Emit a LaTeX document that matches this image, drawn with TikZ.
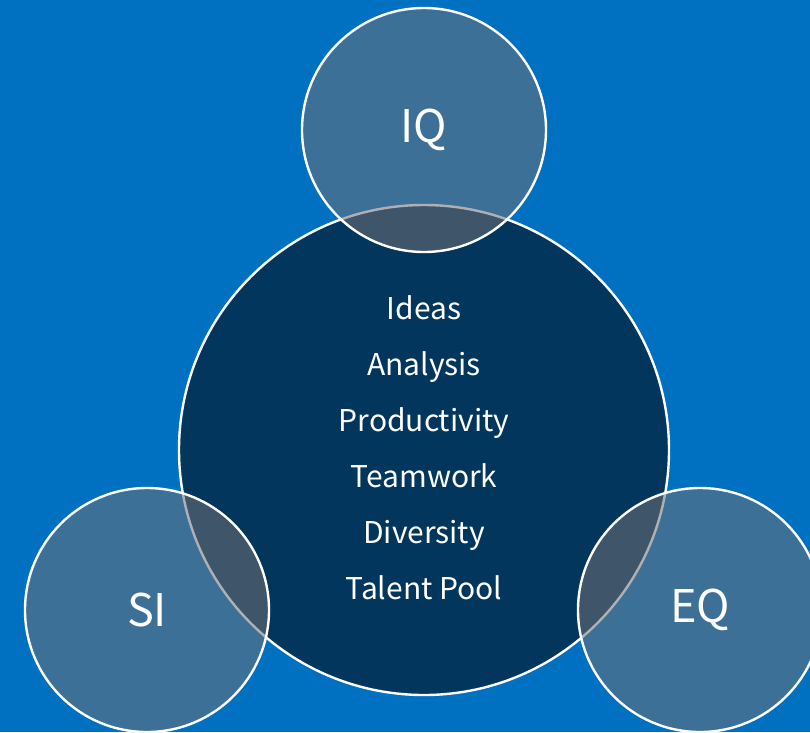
\documentclass[tikz,border=0pt]{standalone}
\usepackage{fontspec}
\setmainfont{Noto Sans CJK JP}
\definecolor{bgblue}{RGB}{0,112,192}
\definecolor{deepnavy}{RGB}{3,54,92}
\definecolor{veil}{RGB}{111,112,119}

\begin{document}
\begin{tikzpicture}[x=1pt, y=-1pt,
  core/.style={circle, draw=white, line width=2.4pt, fill=deepnavy, minimum size=490pt, inner sep=0pt},
  petal/.style={circle, draw=white, line width=2.4pt, fill=veil, fill opacity=0.55, text opacity=1,
    minimum size=244pt, inner sep=0pt, text=white, font=\fontsize{45}{48}\selectfont},
  item/.style={anchor=base, text=white, font=\fontsize{30}{32}\selectfont}]
\fill[bgblue] (0,0) rectangle (810,732);
\useasboundingbox (0,0) rectangle (810,732);

\node (c) at (424,450) [core] {};
\node (iq) at (424,130) [petal] {IQ};
\node (si) at (147,610) [petal] {SI};
\node (eq) at (700,610) [petal] {EQ};

\foreach \w [count=\i] in {Ideas, Analysis, Productivity, Teamwork, Diversity, Talent Pool} {
  \node (w\i) at (424,263+56*\i) [item] {\w};
}
\end{tikzpicture}
\end{document}
